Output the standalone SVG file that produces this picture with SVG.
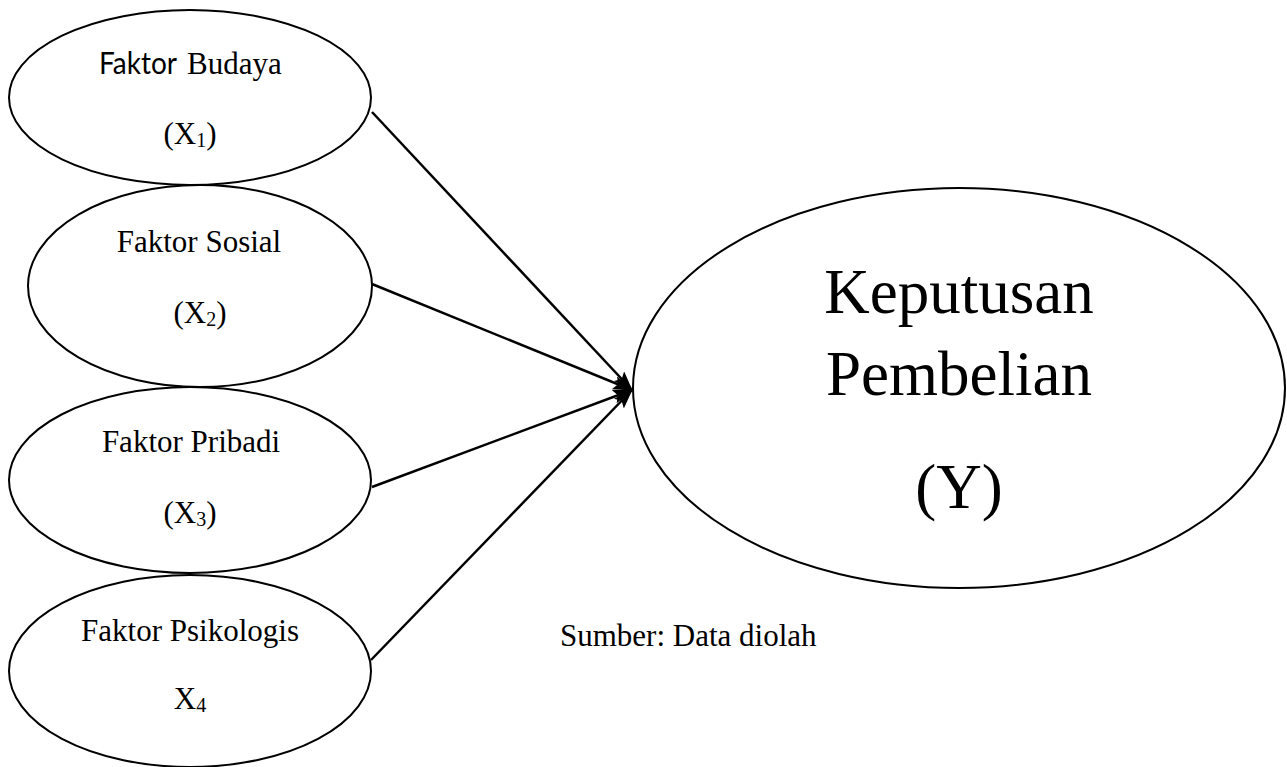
<svg xmlns="http://www.w3.org/2000/svg" width="1287" height="767" viewBox="0 0 1287 767">
<style>
  .node ellipse { fill: #fff; stroke: #000; stroke-width: 2; }
  .t { font-family: "Liberation Serif", "Times New Roman", serif; font-size: 31px; fill: #000; text-anchor: middle; }
  .sub { font-size: 20px; }
  .sans { font-family: Lato, "Open Sans", "Liberation Sans", sans-serif; }
  .big { font-family: "Liberation Serif", "Times New Roman", serif; font-size: 63px; fill: #000; text-anchor: middle; }
  .conn line { stroke: #000; stroke-width: 2.5; fill: none; }
</style>
<defs>
  <marker id="arrow" markerUnits="userSpaceOnUse" markerWidth="20" markerHeight="14" refX="19" refY="7" orient="auto">
    <path d="M0,0 L20,7 L0,14 L4,7 z" fill="#000"/>
  </marker>
</defs>
<rect width="1287" height="767" fill="#fff"/>

<g id="x1" class="node">
  <ellipse cx="190" cy="97.5" rx="181" ry="87.5"/>
  <text class="t" y="74" style="text-anchor:start"><tspan class="sans" x="99" textLength="78" lengthAdjust="spacingAndGlyphs">Faktor</tspan> <tspan x="187">Budaya</tspan></text>
  <text class="t" x="190" y="144">(X<tspan class="sub" dy="3">1</tspan><tspan dy="-3">)</tspan></text>
</g>

<g id="x2" class="node">
  <ellipse cx="200" cy="286" rx="172" ry="101"/>
  <text class="t" x="199" y="252">Faktor Sosial</text>
  <text class="t" x="200" y="323">(X<tspan class="sub" dy="3">2</tspan><tspan dy="-3">)</tspan></text>
</g>

<g id="x3" class="node">
  <ellipse cx="190" cy="480" rx="181" ry="93"/>
  <text class="t" x="191" y="452">Faktor Pribadi</text>
  <text class="t" x="190" y="523">(X<tspan class="sub" dy="3">3</tspan><tspan dy="-3">)</tspan></text>
</g>

<g id="x4" class="node">
  <ellipse cx="190" cy="671" rx="181" ry="96"/>
  <text class="t" x="190" y="641">Faktor Psikologis</text>
  <text class="t" x="190" y="709">X<tspan class="sub" dy="3">4</tspan></text>
</g>

<g id="y" class="node">
  <ellipse cx="959" cy="388" rx="326" ry="200"/>
  <text class="big" x="959" y="313">Keputusan</text>
  <text class="big" x="959" y="395">Pembelian</text>
  <text class="big" x="959" y="508">(Y)</text>
</g>

<g id="connectors" class="conn">
  <line x1="372" y1="112" x2="632" y2="390" marker-end="url(#arrow)"/>
  <line x1="372" y1="284" x2="632" y2="390" marker-end="url(#arrow)"/>
  <line x1="372" y1="487" x2="632" y2="390" marker-end="url(#arrow)"/>
  <line x1="371" y1="660" x2="632" y2="390" marker-end="url(#arrow)"/>
</g>

<text id="source" class="t" x="560" y="646" style="text-anchor:start">Sumber: Data diolah</text>
</svg>
